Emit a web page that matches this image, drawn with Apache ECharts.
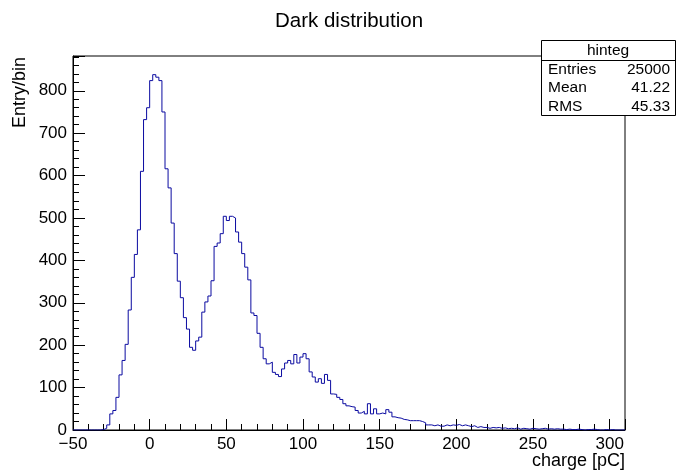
<!DOCTYPE html>
<html>
<head>
<meta charset="utf-8">
<script src="https://cdn.jsdelivr.net/npm/echarts@6/dist/echarts.min.js"></script>
<style>html,body{margin:0;padding:0;background:#fff}#c{width:676px;height:473px}</style>
</head>
<body>
<div id="c"></div>
<script>
// ---- data ----
const titleText = 'Dark distribution';
const xTitle = 'charge [pC]';
const yTitle = 'Entry/bin';
const histName = 'hinteg';
const statsLabels = ['Entries', 'Mean', 'RMS'];
const statsValues = ['25000', '41.22', '45.33'];
const binStart = -50;      // first bin low edge [pC]
const binWidth = 2;        // bin width [pC]
const xMin = -50, xMax = 310, xStep = 50;
const yMin = 0, yMax = 882, yStep = 100;
// bin contents, 180 bins of 2 pC from -50 to 310
const countsA = [0,0,0,0,0,0,0,0,0,1];                                   // -50 .. -32
const countsB = [4,12,38,46,77,130,164,202,283,360,414,472,610,732,760,824,838,832,824,750,616,571]; // -30 .. 12
const countsC = [488,416,351,312,265,238,195,188,210,219,278,302,316,352,433,441,463,504,494,504,500,467,443,416,384,354,276,270,228]; // 14 .. 70
const countsD = [195,168,156,160,136,131,126,144,158,164,156,178,158,172,180,168,137,125,113,121,110,131,117,85,84,77,72,62,57]; // 72 .. 128
const countsE = [55,54,46,40,44,38,62,38,50,38];                          // 130 .. 148
const countsF = [40,38,48,42,31,29,28,25,24,22,22,22,22,20,17,12,12,10,12,9,9,12,10,12,11,13,10,12,10,8,10,6,8,6,6,4,6,5,6]; // 150 .. 226
const countsG = [4,5,3,4,3,5,2,4,3,2,4,3,2,3,4,2,3,2,3,2,2];              // 228 .. 268
const countsH = [1,2,1,1,2,1,0,1,1,2,1,0,0,1,0,1,0,0,0,0];                // 270 .. 308
const counts = [].concat(countsA, countsB, countsC, countsD, countsE, countsF, countsG, countsH);

// ---- build histogram outline points (step at bin edges) ----
const pts = counts.map((v, i) => [binStart + i * binWidth, v]);
pts.push([binStart + counts.length * binWidth, counts[counts.length - 1]]);

const FONT = 'Liberation Sans, Arial, Helvetica, sans-serif';
const chart = echarts.init(document.getElementById('c'), null, {renderer: 'canvas'});
const minus = v => (v < 0 ? '\u2212' + Math.abs(v) : String(v));

chart.setOption({
  animation: false,
  backgroundColor: '#ffffff',
  grid: {left: 73, right: 51, top: 56, bottom: 43, show: true, borderColor: '#000', borderWidth: 1, backgroundColor: 'transparent'},
  xAxis: {
    type: 'value', min: xMin, max: xMax, interval: xStep,
    axisLine: {show: true, onZero: false, lineStyle: {color: '#000', width: 1}},
    axisTick: {show: true, inside: true, length: 11, lineStyle: {color: '#000', width: 1}},
    minorTick: {show: true, splitNumber: 5, length: 6, lineStyle: {color: '#000', width: 1}},
    splitLine: {show: false}, minorSplitLine: {show: false},
    axisLabel: {color: '#000', fontSize: 17, fontFamily: FONT, margin: 6, showMaxLabel: false, formatter: minus}
  },
  yAxis: {
    type: 'value', min: yMin, max: yMax, interval: yStep,
    axisLine: {show: true, onZero: false, lineStyle: {color: '#000', width: 1}},
    axisTick: {show: true, inside: true, length: 12, lineStyle: {color: '#000', width: 1}},
    minorTick: {show: true, splitNumber: 5, length: 6, lineStyle: {color: '#000', width: 1}},
    splitLine: {show: false}, minorSplitLine: {show: false},
    axisLabel: {color: '#000', fontSize: 17, fontFamily: FONT, margin: 6, showMaxLabel: false}
  },
  series: [{
    type: 'line', step: 'end', data: pts, symbol: 'none', clip: true,
    lineStyle: {color: '#0a0aa0', width: 1}, z: 3
  }],
  graphic: [
    {type: 'text', x: 349, y: 21, z: 100, style: {text: titleText, font: '20.5px ' + FONT, fill: '#000', align: 'center', verticalAlign: 'middle'}},
    {type: 'text', x: 625, y: 461, z: 100, style: {text: xTitle, font: '18px ' + FONT, fill: '#000', align: 'right', verticalAlign: 'middle'}},
    {type: 'text', x: 20, y: 57, rotation: Math.PI / 2, z: 100, style: {text: yTitle, font: '18px ' + FONT, fill: '#000', align: 'right', verticalAlign: 'middle'}},
    {type: 'rect', z: 100, shape: {x: 541.5, y: 40.5, width: 134, height: 75}, style: {fill: '#fff', stroke: '#000', lineWidth: 1}},
    {type: 'line', z: 101, shape: {x1: 541.5, y1: 60.5, x2: 675.5, y2: 60.5}, style: {stroke: '#000', lineWidth: 1}},
    {type: 'text', x: 608, y: 50.5, z: 102, style: {text: histName, font: '15.5px ' + FONT, fill: '#000', align: 'center', verticalAlign: 'middle'}},
    ...statsLabels.map((s, k) => ({type: 'text', x: 548, y: 69.5 + k * 18.5, z: 102, style: {text: s, font: '15.5px ' + FONT, fill: '#000', align: 'left', verticalAlign: 'middle'}})),
    ...statsValues.map((s, k) => ({type: 'text', x: 670, y: 69.5 + k * 18.5, z: 102, style: {text: s, font: '15.5px ' + FONT, fill: '#000', align: 'right', verticalAlign: 'middle'}}))
  ]
});
</script>
</body>
</html>
